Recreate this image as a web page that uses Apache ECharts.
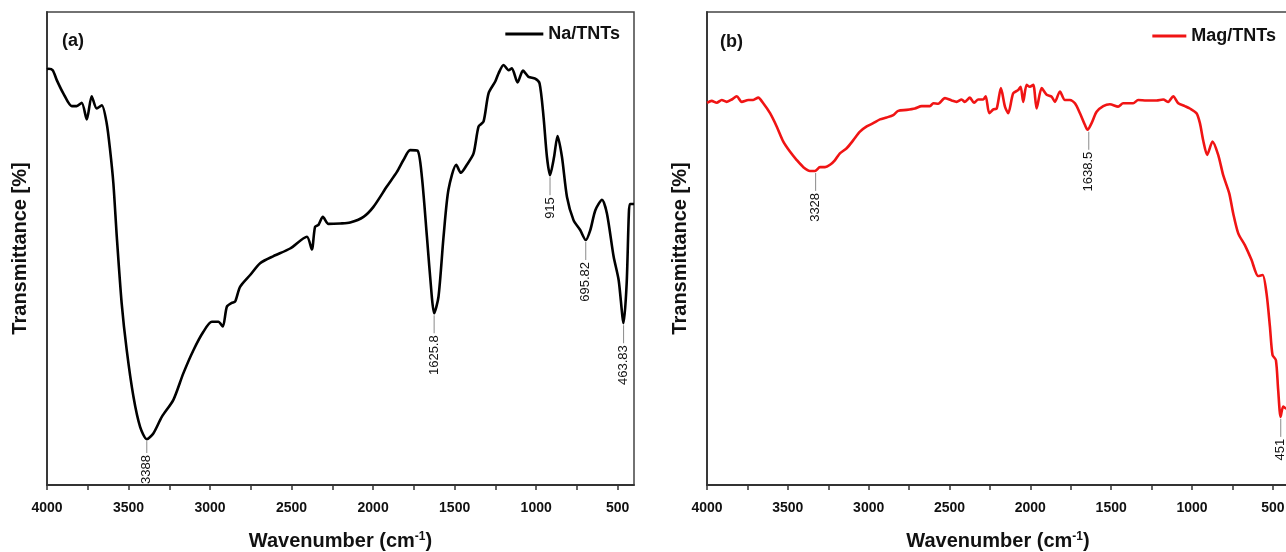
<!DOCTYPE html>
<html>
<head>
<meta charset="utf-8">
<script src="https://cdn.jsdelivr.net/npm/echarts@6/dist/echarts.min.js"></script>
<style>
  html, body { margin: 0; padding: 0; background: #fff; }
  #chart { width: 1286px; height: 552px; }
</style>
</head>
<body>
<div id="chart"></div>
<script>
// FTIR spectra, (a) Na/TNTs and (b) Mag/TNTs
var naWn = [4000, 3990, 3965, 3940, 3900, 3848, 3818, 3787, 3756, 3726, 3695, 3664, 3634, 3613, 3593, 3572,
    3542, 3511, 3470, 3429, 3388, 3348, 3296, 3225, 3164, 3102, 3041, 2989, 2949, 2922, 2897, 2867, 2846,
    2816, 2754, 2693, 2611, 2509, 2406, 2376, 2356, 2335, 2308, 2274, 2202, 2141, 2059, 1998, 1916, 1854,
    1814, 1773, 1728, 1701, 1670, 1640, 1626, 1599, 1568, 1538, 1490, 1462, 1425, 1384, 1353, 1323, 1292,
    1251, 1231, 1200, 1169, 1149, 1114, 1081, 1047, 1006, 979, 955, 934, 915, 890, 869, 842, 811, 771, 730,
    696, 668, 637, 596, 566, 525, 494, 464, 445, 432, 425, 400];
var naT = [87.9, 88.0, 87.7, 85.6, 82.8, 80.1, 80.1, 80.8, 77.3, 82.2, 79.6, 80.3, 76.5, 70.8, 63.8, 52.5,
    38.4, 28.5, 18.7, 12.3, 9.7, 10.9, 14.4, 18.0, 23.6, 28.5, 32.4, 34.5, 34.5, 33.5, 37.7, 38.5, 38.8,
    41.9, 44.4, 46.9, 48.4, 50.0, 52.5, 49.8, 54.6, 55.0, 56.7, 55.2, 55.3, 55.5, 56.7, 58.8, 63.1, 66.2,
    68.7, 70.8, 70.7, 65.2, 52.5, 39.8, 36.3, 39.8, 52.5, 62.4, 67.7, 66.0, 67.7, 70.1, 75.8, 76.8, 82.8,
    85.3, 87.0, 88.8, 87.7, 88.1, 85.1, 87.6, 86.3, 85.9, 84.9, 77.9, 69.4, 65.5, 69.4, 73.8, 69.4, 60.9, 56.0, 53.9,
    51.8, 53.9, 58.1, 60.3, 57.4, 48.3, 43.3, 34.2, 42.6, 57.0, 59.4, 59.4];

var magWn = [4000, 3971, 3940, 3909, 3878, 3847, 3816, 3785, 3744, 3714, 3683, 3652, 3610, 3569, 3528, 3487,
    3445, 3404, 3363, 3332, 3301, 3270, 3239, 3208, 3178, 3136, 3095, 3054, 3012, 2972, 2930, 2889, 2848,
    2817, 2765, 2714, 2672, 2621, 2600, 2570, 2528, 2487, 2456, 2425, 2405, 2374, 2349, 2322, 2291, 2276,
    2254, 2229, 2208, 2182, 2157, 2137, 2106, 2075, 2060, 2044, 2023, 2003, 1982, 1961, 1930, 1899, 1868,
    1848, 1817, 1786, 1755, 1724, 1693, 1662, 1646, 1621, 1590, 1549, 1508, 1457, 1426, 1364, 1333, 1281,
    1219, 1178, 1147, 1116, 1085, 1044, 1013, 972, 951, 931, 906, 873, 838, 807, 770, 745, 714, 673, 632,
    591, 563, 539, 518, 502, 481, 467, 452, 436, 419, 400];
var magT = [80.8, 81.2, 80.8, 81.4, 81.0, 81.5, 82.2, 81.0, 81.4, 81.4, 81.9, 80.7, 78.6, 75.8, 72.6, 70.5,
    68.7, 67.2, 66.4, 66.4, 67.2, 67.2, 67.7, 68.7, 70.1, 71.2, 72.9, 74.7, 75.8, 76.5, 77.3, 77.7, 78.2,
    79.1, 79.3, 79.6, 80.1, 80.1, 80.7, 80.6, 81.8, 81.3, 81.0, 81.5, 81.0, 81.9, 80.8, 81.5, 81.5, 82.2,
    78.6, 79.4, 79.6, 83.9, 80.0, 78.6, 82.8, 83.5, 84.2, 81.0, 84.6, 84.2, 84.6, 79.6, 83.9, 82.5, 82.1,
    81.0, 83.2, 81.4, 81.4, 80.7, 78.6, 76.1, 75.1, 76.5, 78.9, 80.1, 80.5, 80.0, 80.7, 80.7, 81.4, 81.3,
    81.3, 81.5, 81.0, 82.2, 80.7, 80.1, 79.6, 78.6, 76.5, 72.9, 69.8, 72.6, 69.8, 65.5, 61.7, 57.4, 53.2, 50.7, 47.6,
    44.2, 44.4, 40.5, 33.5, 27.5, 26.4, 20.1, 14.4, 16.6, 16.2, 17.0];

// labelled peaks
var naPeakWn = [3388, 1625.8, 915, 695.82, 463.83];
var naPeakT = [9.7, 36.3, 65.5, 51.8, 34.2];
var magPeakWn = [3328, 1638.5, 451];
var magPeakT = [66.4, 75.1, 14.4];

var tickLabels = [4000, 3500, 3000, 2500, 2000, 1500, 1000, 500];
var tickMarks = [4000, 3750, 3500, 3250, 3000, 2750, 2500, 2250, 2000, 1750, 1500, 1250, 1000, 750, 500];

var FONT = '"Liberation Sans", Arial, Helvetica, sans-serif';

function pairs(xs, ys) {
    var out = [];
    for (var i = 0; i < xs.length; i++) {
        out.push([xs[i], ys[i]]);
    }
    return out;
}

// leader line + rotated label under a peak
function peakRenderer(params, api) {
    var p = api.coord([api.value(0), api.value(1)]);
    var bottom = api.coord([api.value(0), 0])[1];
    var text = String(api.value(0));
    var textLen = text.length * 7;
    // shorten the leader when the label would run into the axis
    var lead = Math.max(8, Math.min(18, bottom - p[1] - 6 - textLen));
    return {
        type: 'group',
        children: [
            {
                type: 'line',
                shape: {x1: p[0], y1: p[1] + 2, x2: p[0], y2: p[1] + 2 + lead},
                style: {stroke: '#8a8a8a', lineWidth: 1}
            },
            {
                type: 'text',
                x: p[0],
                y: p[1] + 4 + lead,
                rotation: Math.PI / 2,
                style: {
                    text: text,
                    align: 'right',
                    verticalAlign: 'middle',
                    fontSize: 13,
                    fontFamily: FONT,
                    fill: '#111'
                }
            }
        ]
    };
}

function xAxisFor(gridIndex) {
    return {
        type: 'value',
        gridIndex: gridIndex,
        min: 400,
        max: 4000,
        inverse: true,
        name: 'Wavenumber (cm{sup|-1})',
        nameLocation: 'middle',
        nameGap: 46,
        nameTextStyle: {
            fontSize: 20, fontWeight: 'bold', color: '#111', fontFamily: FONT,
            rich: {sup: {fontSize: 12, fontWeight: 'bold', color: '#111', fontFamily: FONT, verticalAlign: 'top'}}
        },
        axisLine: {show: true, onZero: false, lineStyle: {color: '#333', width: 1.8}},
        axisTick: {show: true, inside: false, length: 5, customValues: tickMarks, lineStyle: {color: '#333', width: 1.5}},
        minorTick: {show: false},
        axisLabel: {
            show: true, margin: 16, customValues: tickLabels,
            fontSize: 14, fontWeight: 'bold', color: '#111', fontFamily: FONT,
            formatter: function (v) { return String(v); }
        },
        splitLine: {show: false}
    };
}

function yAxisFor(gridIndex) {
    return {
        type: 'value',
        gridIndex: gridIndex,
        min: 0,
        max: 100,
        name: 'Transmittance [%]',
        nameLocation: 'middle',
        nameGap: 17,
        nameRotate: 90,
        nameTextStyle: {fontSize: 20, fontWeight: 'bold', color: '#111', fontFamily: FONT},
        axisLine: {show: true, onZero: false, lineStyle: {color: '#333', width: 1.8}},
        axisTick: {show: false},
        axisLabel: {show: false},
        splitLine: {show: false}
    };
}

var chart = echarts.init(document.getElementById('chart'), null, {renderer: 'canvas'});

var option = {
    backgroundColor: '#ffffff',
    animation: false,
    title: [
        {text: '(a)', left: 57, top: 27, padding: 5, textStyle: {fontSize: 18, fontWeight: 'bold', color: '#111', fontFamily: FONT}},
        {text: '(b)', left: 715, top: 28, padding: 5, textStyle: {fontSize: 18, fontWeight: 'bold', color: '#111', fontFamily: FONT}}
    ],
    legend: [
        {
            data: ['Na/TNTs'], right: 661, top: 20, icon: 'rect', itemWidth: 38, itemHeight: 3,
            textStyle: {fontSize: 18, fontWeight: 'bold', color: '#111', fontFamily: FONT}
        },
        {
            data: ['Mag/TNTs'], right: 5, top: 22, icon: 'rect', itemWidth: 34, itemHeight: 3,
            textStyle: {fontSize: 18, fontWeight: 'bold', color: '#111', fontFamily: FONT}
        }
    ],
    grid: [
        {left: 47, top: 12, width: 587, height: 473, show: true, borderColor: '#444', borderWidth: 1.5, outerBoundsMode: 'none', containLabel: false},
        {left: 707, top: 12, width: 582, height: 473, show: true, borderColor: '#444', borderWidth: 1.5, outerBoundsMode: 'none', containLabel: false}
    ],
    xAxis: [xAxisFor(0), xAxisFor(1)],
    yAxis: [yAxisFor(0), yAxisFor(1)],
    series: [
        {
            name: 'Na/TNTs', type: 'line', xAxisIndex: 0, yAxisIndex: 0,
            data: pairs(naWn, naT), showSymbol: false, symbol: 'none', smooth: 0.25,
            lineStyle: {color: '#000', width: 2.6}, itemStyle: {color: '#000'}
        },
        {
            name: 'Mag/TNTs', type: 'line', xAxisIndex: 1, yAxisIndex: 1,
            data: pairs(magWn, magT), showSymbol: false, symbol: 'none', smooth: 0.25,
            lineStyle: {color: '#f01414', width: 2.6}, itemStyle: {color: '#f01414'}
        },
        {
            type: 'custom', xAxisIndex: 0, yAxisIndex: 0, silent: true, clip: false,
            data: pairs(naPeakWn, naPeakT), renderItem: peakRenderer
        },
        {
            type: 'custom', xAxisIndex: 1, yAxisIndex: 1, silent: true, clip: false,
            data: pairs(magPeakWn, magPeakT), renderItem: peakRenderer
        }
    ]
};

chart.setOption(option);
window.onresize = function () {
    chart.resize();
};
</script>
</body>
</html>
